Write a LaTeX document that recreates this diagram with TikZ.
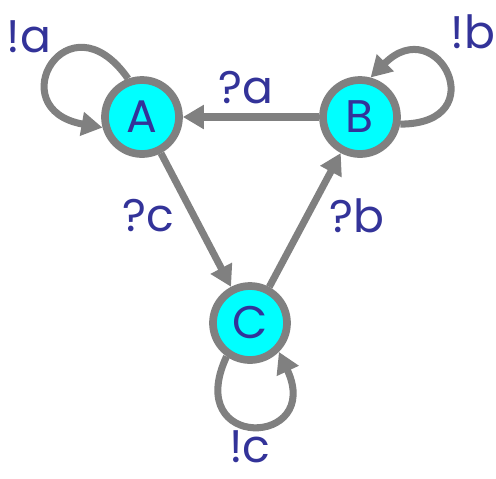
\documentclass[tikz,border=0pt]{standalone}
\usepackage{fontspec}
\setmainfont{Poppins}
\usetikzlibrary{arrows.meta}
\definecolor{STFill}{HTML}{00FFFF}
\definecolor{STEdge}{HTML}{808080}
\definecolor{STInk}{HTML}{333399}
\tikzset{
  state/.style={circle,draw=STEdge,line width=2.2pt,fill=STFill,minimum size=0.74cm,
                inner sep=0pt,text=STInk,font=\fontsize{13}{15}\selectfont},
  move/.style={-{Triangle[length=0.21cm,width=0.23cm]},STEdge,line width=2pt},
  act/.style={text=STInk,font=\fontsize{13}{15}\selectfont},
}
\begin{document}
\begin{tikzpicture}
    \useasboundingbox (0,0) rectangle (4.96,4.78);
    \node[state] (A) at (1.42,3.61) {A};
    \node[state] (B) at (3.60,3.61) {B};
    \node[state] (C) at (2.50,1.55) {C};
    % transitions
    \draw[move] (B) -- (A);
    \draw[move] (A) -- (C);
    \draw[move] (C) -- (B);
    % self loops
    \draw[move] (A.110) to[out=125,in=170,distance=1.05cm] (A.195);
    \draw[move] (B.-10) to[out=0,in=45,distance=0.95cm] (B.75);
    \draw[move] (C.235) to[out=245,in=-65,distance=1.05cm] (C.-45);
    % labels
    \node[act] (la) at (0.29,4.41) {!a};
    \node[act] (qa) at (2.46,3.90) {?a};
    \node[act] (lb) at (4.73,4.46) {!b};
    \node[act] (qc) at (1.48,2.62) {?c};
    \node[act] (qb) at (3.57,2.62) {?b};
    \node[act] (lc) at (2.50,0.31) {!c};
\end{tikzpicture}
\end{document}
